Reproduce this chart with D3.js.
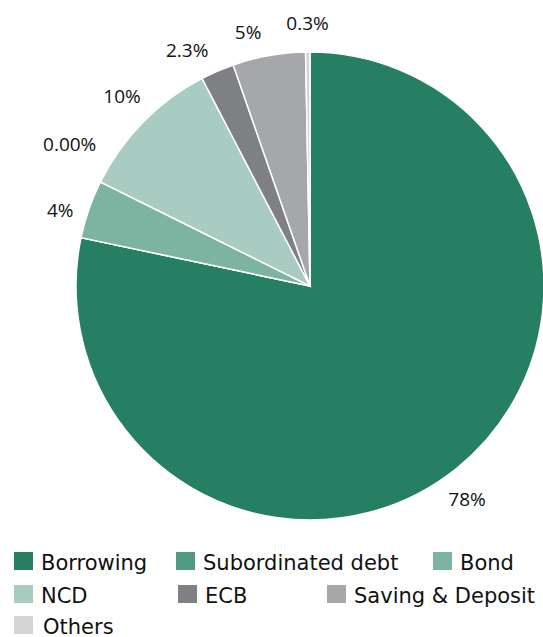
<!DOCTYPE html>
<html>
<head>
<meta charset="utf-8">
<script src="https://cdn.jsdelivr.net/npm/d3@7"></script>
<style>
  html, body { margin: 0; padding: 0; background: #fff; }
  svg { display: block; }
</style>
</head>
<body>
<svg id="chart" width="543" height="637"></svg>
<script>
// Funding mix, clockwise from 12 o'clock
const categories = ["Borrowing", "Subordinated debt", "Bond", "NCD", "ECB", "Saving & Deposit", "Others"];
const shares = [78, 0, 4, 10, 2.3, 5, 0.3];
const shareLabels = ["78%", "0.00%", "4%", "10%", "2.3%", "5%", "0.3%"];
const colors = ["#267f62", "#4f9a80", "#7db3a1", "#a8ccc1", "#7f8084", "#a6a7ab", "#d3d4d6"];

const svg = d3.select("#chart");
const cx = 310, cy = 286, radius = 234;

const pie = d3.pie().sort(null).value(d => d.value);
const arcs = pie(categories.map((c, i) => ({ name: c, value: shares[i], label: shareLabels[i], color: colors[i] })));
const arc = d3.arc().innerRadius(0).outerRadius(radius);

const g = svg.append("g").attr("transform", `translate(${cx},${cy})`);

g.selectAll("path.slice")
  .data(arcs)
  .join("path")
  .attr("class", "slice")
  .attr("d", arc)
  .attr("fill", d => d.data.color)
  .attr("stroke", "#fff")
  .attr("stroke-width", 1.5);

// Outside labels: small angular shifts (degrees) and radii keep crowded labels apart;
// the empty slice's label is lifted into the gap above its neighbour.
const labelShiftDeg = [2.7, 18.6, -2.3, 0.8, -4.2, -3.6, 0];
const labelRadius = [265, 279, 261, 267, 266, 261, 263];
function labelPos(d, i) {
  const a = (d.startAngle + d.endAngle) / 2 + labelShiftDeg[i] * Math.PI / 180;
  const r = labelRadius[i];
  return [Math.sin(a) * r, -Math.cos(a) * r];
}

g.selectAll("text.value")
  .data(arcs)
  .join("text")
  .attr("class", "value")
  .attr("x", (d, i) => labelPos(d, i)[0])
  .attr("y", (d, i) => labelPos(d, i)[1])
  .attr("text-anchor", "middle")
  .attr("dominant-baseline", "central")
  .attr("font-family", "'Open Sans', sans-serif")
  .attr("font-size", 19)
  .attr("fill", "#111")
  .text(d => d.data.label);

// Legend, flowing in three rows
const legendRows = [[0, 1, 2], [3, 4, 5], [6]];
const rowX = [[14, 176, 433], [14, 178, 327], [14]];
const rowY = [552, 585, 616];
const legend = svg.append("g").attr("font-family", "'DejaVu Sans', sans-serif").attr("font-size", 21);
legendRows.forEach((row, ri) => {
  row.forEach((idx, ci) => {
    const item = legend.append("g").attr("transform", `translate(${rowX[ri][ci]},${rowY[ri]})`);
    item.append("rect").attr("width", 19).attr("height", 18).attr("fill", colors[idx]);
    item.append("text").attr("x", idx === 6 ? 29 : 27).attr("y", 18).attr("fill", "#111").text(categories[idx]);
  });
});
</script>
</body>
</html>
